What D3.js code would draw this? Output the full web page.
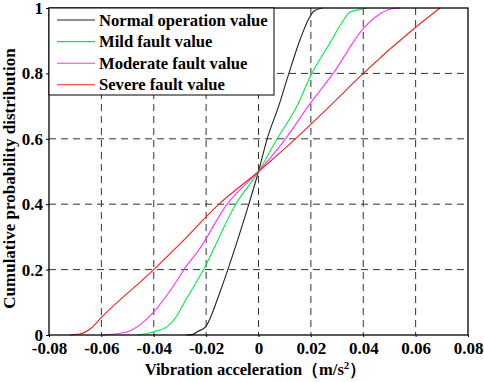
<!DOCTYPE html>
<html>
<head>
<meta charset="utf-8">
<script src="https://cdn.jsdelivr.net/npm/d3@7"></script>
<style>
  body { margin: 0; background: #fff; }
  svg { display: block; }
  .tick text { font-family: "Liberation Serif", "Times New Roman", serif; font-weight: bold; font-size: 17px; fill: #000; }
</style>
</head>
<body>
<div id="chart"></div>
<script>
// Series: [acceleration (m/s^2), cumulative probability]
const normalValues = [
    [-0.0275, 0], [-0.025, 0.002], [-0.0234, 0.01], [-0.0202, 0.025], [-0.018, 0.06],
    [-0.0158, 0.107], [-0.0117, 0.2], [-0.0037, 0.4], [0, 0.5],
    [0.0033, 0.6], [0.0078, 0.702], [0.0116, 0.8], [0.016, 0.906], [0.0192, 0.967],
    [0.0211, 0.99], [0.0243, 1]
];
const mildValues = [
    [-0.0463, 0], [-0.043, 0.004], [-0.04, 0.01], [-0.035, 0.025], [-0.0315, 0.055],
    [-0.0285, 0.097], [-0.021, 0.2], [-0.0087, 0.4], [0, 0.5], [0.0071, 0.6],
    [0.0148, 0.702], [0.02, 0.794], [0.0275, 0.896], [0.032, 0.957], [0.035, 0.988],
    [0.04, 0.997], [0.0415, 1]
];
const moderateValues = [
    [-0.0595, 0], [-0.055, 0.003], [-0.05, 0.01], [-0.0424, 0.051], [-0.04, 0.071],
    [-0.031, 0.168], [-0.0285, 0.2], [-0.0228, 0.26], [-0.012, 0.4], [0, 0.5],
    [0.0103, 0.6], [0.0192, 0.702], [0.0285, 0.8], [0.04, 0.937], [0.0455, 0.977],
    [0.0505, 0.997], [0.0543, 1]
];
const severeValues = [
    [-0.0721, 0], [-0.0683, 0.003], [-0.0641, 0.02], [-0.06, 0.054], [-0.04, 0.2],
    [-0.0298, 0.28], [-0.0151, 0.4], [0, 0.5], [0.0141, 0.6], [0.0275, 0.702],
    [0.04, 0.8], [0.06, 0.941], [0.0693, 1]
];

const seriesNames = ['Normal operation value', 'Mild fault value', 'Moderate fault value', 'Severe fault value'];
const seriesColors = ['#222222', '#00ee44', '#ff33ff', '#ee2222'];
const seriesData = [normalValues, mildValues, moderateValues, severeValues];

const xTicks = [-0.08, -0.06, -0.04, -0.02, 0, 0.02, 0.04, 0.06, 0.08];
const yTicks = [0, 0.2, 0.4, 0.6, 0.8, 1];

const width = 484;
const height = 382;
const margin = { top: 8, right: 16, bottom: 47, left: 49 };
const plotWidth = width - margin.left - margin.right;
const plotHeight = height - margin.top - margin.bottom;
const FONT = '"Liberation Serif", "Times New Roman", serif';

const svg = d3.select('#chart')
    .append('svg')
    .attr('width', width)
    .attr('height', height);

const plotArea = svg.append('g')
    .attr('transform', `translate(${margin.left},${margin.top})`);

const xScale = d3.scaleLinear().domain([-0.08, 0.08]).range([0, plotWidth]);
const yScale = d3.scaleLinear().domain([0, 1]).range([plotHeight, 0]);

// Dashed grid on the inner ticks
plotArea.append('g')
    .selectAll('line')
    .data(xTicks.slice(1, -1))
    .join('line')
    .attr('x1', d => xScale(d)).attr('x2', d => xScale(d))
    .attr('y1', 0).attr('y2', plotHeight)
    .style('stroke', '#333')
    .style('stroke-width', 1)
    .style('stroke-dasharray', '7,5');

plotArea.append('g')
    .selectAll('line')
    .data(yTicks.slice(1, -1))
    .join('line')
    .attr('x1', 0).attr('x2', plotWidth)
    .attr('y1', d => yScale(d)).attr('y2', d => yScale(d))
    .style('stroke', '#333')
    .style('stroke-width', 1)
    .style('stroke-dasharray', '7,5');

// Curves
const line = d3.line()
    .x(d => xScale(d[0]))
    .y(d => yScale(d[1]))
    .curve(d3.curveMonotoneX);

seriesData.forEach((data, i) => {
    plotArea.append('path')
        .datum(data)
        .attr('d', line)
        .style('fill', 'none')
        .style('stroke', seriesColors[i])
        .style('stroke-width', 1.1);
});

// Axes
const xAxis = plotArea.append('g')
    .attr('transform', `translate(0,${plotHeight})`)
    .call(d3.axisBottom(xScale)
        .tickValues(xTicks)
        .tickSize(2)
        .tickPadding(5)
        .tickFormat(d => d === 0 ? '0' : d3.format('.2f')(d).replace('−', '-')));
xAxis.select('.domain').remove();

const yAxis = plotArea.append('g')
    .call(d3.axisLeft(yScale)
        .tickValues(yTicks)
        .tickSize(3)
        .tickPadding(3)
        .tickFormat(d => d === 0 || d === 1 ? String(d) : d3.format('.1f')(d)));
yAxis.select('.domain').remove();

// Plot frame
plotArea.append('rect')
    .attr('x', 0).attr('y', 0)
    .attr('width', plotWidth).attr('height', plotHeight)
    .style('fill', 'none')
    .style('stroke', '#000')
    .style('stroke-width', 1.3);

// Legend
const legend = plotArea.append('g');
legend.append('rect')
    .attr('x', 0).attr('y', 0)
    .attr('width', 225).attr('height', 87)
    .style('fill', '#fff')
    .style('stroke', '#000')
    .style('stroke-width', 1);

seriesNames.forEach((name, i) => {
    const y = 12 + i * 21.6;
    legend.append('line')
        .attr('x1', 8).attr('x2', 46)
        .attr('y1', y).attr('y2', y)
        .style('stroke', seriesColors[i])
        .style('stroke-width', 1.1);
    legend.append('text')
        .attr('x', 50)
        .attr('y', y + 5.5)
        .style('font-family', FONT)
        .style('font-weight', 'bold')
        .style('font-size', '16.6px')
        .style('fill', '#000')
        .text(name);
});

// Axis labels
const xLabel = svg.append('text')
    .attr('text-anchor', 'middle')
    .attr('x', margin.left + plotWidth / 2 - 3)
    .attr('y', 375)
    .style('font-family', FONT)
    .style('font-weight', 'bold')
    .style('font-size', '16.5px')
    .style('fill', '#000');
xLabel.append('tspan').text('Vibration acceleration（m/s');
xLabel.append('tspan').attr('dy', -6).style('font-size', '11px').text('2');
xLabel.append('tspan').attr('dy', 6).text('）');

svg.append('text')
    .attr('text-anchor', 'middle')
    .attr('transform', `translate(15,${margin.top + plotHeight / 2 + 7}) rotate(-90)`)
    .style('font-family', FONT)
    .style('font-weight', 'bold')
    .style('font-size', '17px')
    .style('fill', '#000')
    .text('Cumulative probability distribution');
</script>
</body>
</html>
